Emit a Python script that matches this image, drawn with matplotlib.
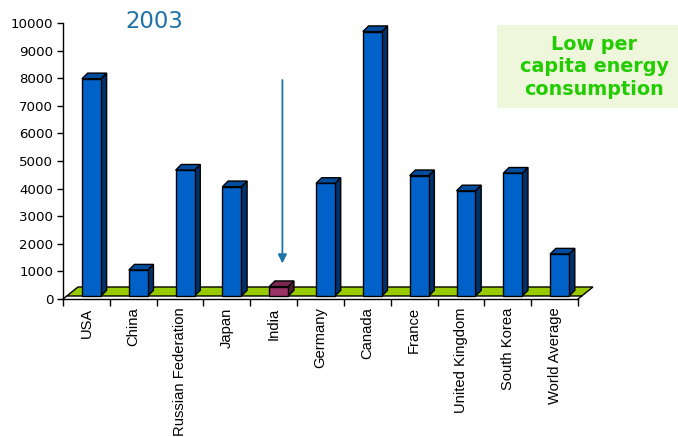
import matplotlib
matplotlib.use("Agg")
import matplotlib.pyplot as plt
from matplotlib.patches import Polygon, Rectangle

# Per capita energy consumption, 2003 (kg of oil equivalent)
countries = ["USA", "China", "Russian Federation", "Japan", "India", "Germany",
             "Canada", "France", "United Kingdom", "South Korea", "World Average"]
consumption = [7870, 940, 4560, 3960, 340, 4080, 9580, 4360, 3810, 4450, 1520]
highlight = "India"
y_ticks = list(range(0, 10001, 1000))
title_text = "2003"
note_text = "Low per\ncapita energy\nconsumption"

# colours
FRONT, SIDE, TOP = "#0062C8", "#00316B", "#004C9C"
FRONT_H, SIDE_H, TOP_H = "#993366", "#4E1A36", "#7A2852"
FLOOR = "#99CC00"
ACCENT = "#1D73A8"

W, H = 678, 437
fig = plt.figure(figsize=(W / 100, H / 100), dpi=100)
ax_left, ax_right, ax_top, ax_bottom = 63, 578, 23, 299
ax = fig.add_axes([ax_left / W, 1 - ax_bottom / H,
                   (ax_right - ax_left) / W, (ax_bottom - ax_top) / H])
n = len(countries)
ax.set_xlim(0, n)
ax.set_ylim(0, 10000)

# pseudo-3D geometry (data units)
floor_dx, floor_dv = 0.32, 435
bar_x0, bar_x1 = 0.405, 0.81
bar_dx, bar_dv = 0.122, 205
base_v = 109

# floor slab
floor_front_dx = floor_dx * base_v / floor_dv
ax.add_patch(Polygon([(floor_front_dx, base_v), (floor_dx, floor_dv),
                      (n + floor_dx, floor_dv), (n + floor_front_dx, base_v)],
                     closed=True, facecolor=FLOOR, edgecolor="black",
                     linewidth=1.0, clip_on=False, zorder=2))
for x in (0, n):
    ax.plot([x, x + floor_front_dx], [0, base_v], color="black", lw=1.0,
            clip_on=False, zorder=2)

# columns
for i, (name, val) in enumerate(zip(countries, consumption)):
    if name == highlight:
        fc, sc, tc = FRONT_H, SIDE_H, TOP_H
    else:
        fc, sc, tc = FRONT, SIDE, TOP
    x0, x1 = i + bar_x0, i + bar_x1
    vb, vt = base_v, base_v + val
    kw = dict(closed=True, edgecolor="black", linewidth=1.0, clip_on=False,
              zorder=3, joinstyle="miter")
    ax.add_patch(Polygon([(x1, vb), (x1 + bar_dx, vb + bar_dv),
                          (x1 + bar_dx, vt + bar_dv), (x1, vt)], facecolor=sc, **kw))
    ax.add_patch(Polygon([(x0, vt), (x0 + bar_dx, vt + bar_dv),
                          (x1 + bar_dx, vt + bar_dv), (x1, vt)], facecolor=tc, **kw))
    ax.add_patch(Polygon([(x0, vb), (x1, vb), (x1, vt), (x0, vt)],
                         facecolor=fc, **kw))

# axes styling
for s in ("top", "right"):
    ax.spines[s].set_visible(False)
for s in ("left", "bottom"):
    ax.spines[s].set_linewidth(1.0)
ax.set_yticks(y_ticks)
ax.set_yticklabels([str(t) for t in y_ticks], fontsize=9.6,
                   family="DejaVu Sans", color="black")
ax.tick_params(axis="y", direction="out", length=4, width=1.0, pad=3)

ax.set_xticks(range(n + 1))
ax.set_xticklabels([])
ax.tick_params(axis="x", which="major", direction="out", length=5, width=1.0)
ax.set_xticks([i + 0.5 for i in range(n)], minor=True)
ax.set_xticklabels(countries, minor=True, rotation=90, fontsize=10.6,
                   family="Liberation Sans", color="black")
ax.tick_params(axis="x", which="minor", length=0, pad=6)

# arrow pointing at the highlighted column
hi = countries.index(highlight)
ax.annotate("", xy=(hi + 0.686, 1290), xytext=(hi + 0.686, 7935),
            arrowprops=dict(arrowstyle="-|>", color=ACCENT, lw=1.3,
                            mutation_scale=13, shrinkA=0, shrinkB=0),
            zorder=4)

# title
fig.text(154 / W, 1 - 21 / H, title_text, fontsize=16.4, color=ACCENT,
         family="DejaVu Sans", ha="center", va="center")

# note box
fig.patches.append(Rectangle((497 / W, 1 - 108 / H), (W - 497) / W, 83 / H,
                             transform=fig.transFigure, facecolor="#EEF6DC",
                             edgecolor="none", zorder=0))
fig.text(594 / W, 1 - 67 / H, note_text, fontsize=13.8, fontweight="bold",
         color="#22CC00", family="DejaVu Sans", ha="center", va="center",
         linespacing=1.22)

fig.savefig("out.png", dpi=100)
